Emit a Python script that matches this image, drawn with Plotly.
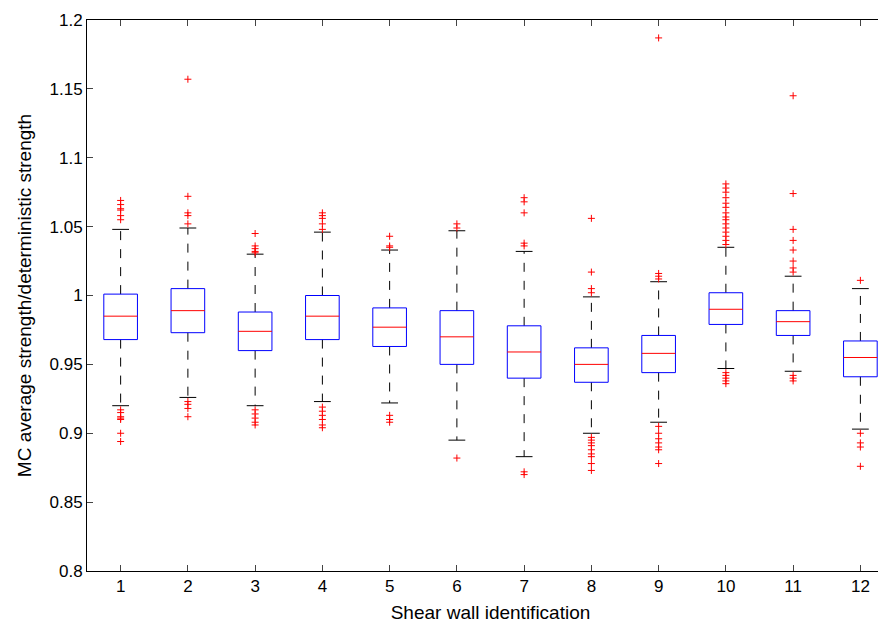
import plotly.graph_objects as go

walls = list(range(1, 13))
y_ticks = [0.8, 0.85, 0.9, 0.95, 1.0, 1.05, 1.1, 1.15, 1.2]
y_tick_text = ["0.8", "0.85", "0.9", "0.95", "1", "1.05", "1.1", "1.15", "1.2"]
q1 = [0.968, 0.973, 0.960, 0.968, 0.963, 0.950, 0.940, 0.937, 0.944, 0.979, 0.971, 0.941]
med = [0.985, 0.989, 0.974, 0.985, 0.977, 0.970, 0.959, 0.950, 0.958, 0.990, 0.981, 0.955]
q3 = [1.001, 1.005, 0.988, 1.000, 0.991, 0.989, 0.978, 0.962, 0.971, 1.002, 0.989, 0.967]
lo_w = [0.920, 0.926, 0.920, 0.923, 0.922, 0.895, 0.883, 0.900, 0.908, 0.947, 0.945, 0.903]
hi_w = [1.048, 1.049, 1.030, 1.046, 1.033, 1.047, 1.032, 0.999, 1.010, 1.035, 1.014, 1.005]
outliers = [
    [1.055, 1.058, 1.062, 1.063, 1.066, 1.069, 0.917, 0.915, 0.912, 0.911, 0.910, 0.900, 0.894],
    [1.052, 1.058, 1.060, 1.072, 1.157, 0.923, 0.921, 0.918, 0.912],
    [1.031, 1.032, 1.034, 1.036, 1.045, 0.917, 0.914, 0.911, 0.908, 0.906],
    [1.048, 1.052, 1.056, 1.058, 1.060, 0.919, 0.916, 0.913, 0.910, 0.906, 0.904],
    [1.035, 1.036, 1.043, 0.913, 0.910, 0.908],
    [1.049, 1.052, 0.882],
    [1.036, 1.038, 1.060, 1.068, 1.071, 0.872, 0.870],
    [1.002, 1.005, 1.017, 1.056, 0.897, 0.895, 0.893, 0.891, 0.888, 0.885, 0.883, 0.878, 0.873],
    [1.012, 1.014, 1.016, 1.187, 0.905, 0.900, 0.896, 0.893, 0.890, 0.888, 0.878],
    [1.037, 1.040, 1.043, 1.046, 1.049, 1.052, 1.055, 1.057, 1.060, 1.064, 1.067, 1.071, 1.075,
     1.078, 1.081, 0.944, 0.942, 0.940, 0.938, 0.936],
    [1.017, 1.020, 1.025, 1.033, 1.040, 1.048, 1.074, 1.145, 0.942, 0.940, 0.938],
    [1.011, 0.900, 0.893, 0.890, 0.876],
]

bw = 0.25   # half box width
cw = 0.125  # half cap width

bx, by, mx, my, wx, wy, cx, cy, ox, oy = [], [], [], [], [], [], [], [], [], []
for i, w in enumerate(walls):
    bx += [w - bw, w + bw, w + bw, w - bw, w - bw, None]
    by += [q1[i], q1[i], q3[i], q3[i], q1[i], None]
    mx += [w - bw, w + bw, None]
    my += [med[i], med[i], None]
    wx += [w, w, None, w, w, None]
    wy += [q3[i], hi_w[i], None, q1[i], lo_w[i], None]
    cx += [w - cw, w + cw, None, w - cw, w + cw, None]
    cy += [hi_w[i], hi_w[i], None, lo_w[i], lo_w[i], None]
    ox += [w] * len(outliers[i])
    oy += outliers[i]

fig = go.Figure()
fig.add_trace(go.Scatter(x=wx, y=wy, mode="lines", line=dict(color="black", width=1, dash="dash")))
fig.add_trace(go.Scatter(x=cx, y=cy, mode="lines", line=dict(color="black", width=1)))
fig.add_trace(go.Scatter(x=bx, y=by, mode="lines", line=dict(color="blue", width=1)))
fig.add_trace(go.Scatter(x=mx, y=my, mode="lines", line=dict(color="red", width=1)))
fig.add_trace(go.Scatter(x=ox, y=oy, mode="markers",
                         marker=dict(symbol="cross-thin", size=5, line=dict(color="red", width=1))))

fig.update_layout(
    width=886, height=627, showlegend=False,
    plot_bgcolor="white", paper_bgcolor="white",
    margin=dict(l=79, r=0, t=12, b=64),
    font=dict(family="Liberation Sans, Arial", size=17, color="black"),
)
fig.update_xaxes(range=[0.5, 12.5], tickvals=walls, ticks="inside", ticklen=6, automargin=False,
                 showline=True, linecolor="black", mirror="ticks", showgrid=False, zeroline=False,
                 title=dict(text="Shear wall identification", font=dict(size=19), standoff=10))
fig.update_yaxes(range=[0.8, 1.2], tickvals=y_ticks, ticktext=y_tick_text, ticks="inside", ticklen=6,
                 automargin=False, showline=True, linecolor="black", mirror="ticks",
                 showgrid=False, zeroline=False,
                 title=dict(text="MC average strength/deterministic strength", font=dict(size=19), standoff=12))
fig.write_html("out.html")
